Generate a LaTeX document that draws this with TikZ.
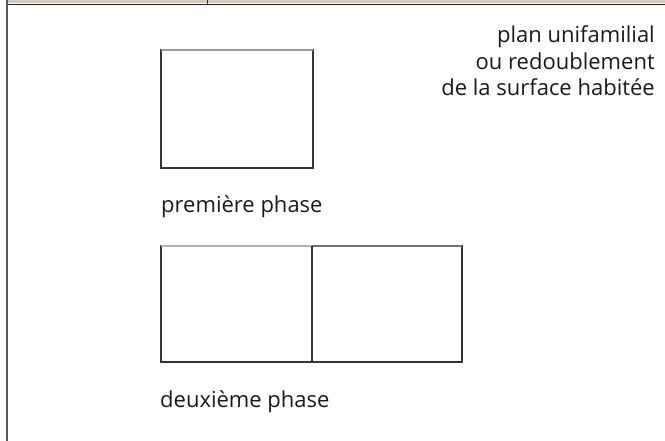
\documentclass[tikz,border=0pt]{standalone}
\usepackage{fontspec}
\setmainfont{Open Sans}
\definecolor{strip}{HTML}{D8C9C1}
\definecolor{frameline}{HTML}{5A5A5A}
\definecolor{plan}{HTML}{333333}
\definecolor{txt}{HTML}{1A1A1A}
\begin{document}
\begin{tikzpicture}[x=1pt,y=-1pt,
  planline/.style={draw=plan,line width=1.8pt},
  label/.style={inner sep=0pt,text=txt,font=\fontsize{22}{26.5}\selectfont},
]
\useasboundingbox (0,0) rectangle (665,441);
% header strip and frame
\fill[strip] (6,0) rectangle (665,3.5);
\draw[line width=1.5pt,draw=black!85] (6,4.3) -- (665,4.3);
\draw[line width=1pt,draw=black!80] (207,0) -- (207,4.3);
\draw[line width=2pt,draw=frameline] (6.5,0) -- (6.5,441);
% first phase
\coordinate (a1) at (161,50);
\coordinate (a2) at (313,168);
\draw[planline] (a1) rectangle (a2);
\draw[draw=black!40,line width=1.8pt] (a1) -- (313,50);
\node[label,anchor=base west] (p1) at (161,213) {première phase};
% second phase
\coordinate (b1) at (161,246);
\coordinate (bm) at (312,246);
\coordinate (bmb) at (312,362);
\coordinate (b2) at (462,362);
\draw[planline] (b1) rectangle (b2);
\draw[draw=black!30,line width=1.8pt] (b1) -- (bm);
\draw[draw=black!55,line width=1.8pt] (bm) -- (462,246);
\draw[planline] (bm) -- (bmb);
\node[label,anchor=base west] (p2) at (160,407) {deuxième phase};
% title
\node[label,anchor=base east] (t) at (655,43) {plan unifamilial};
\node[label,anchor=base east] (t2) at (655,69.5) {ou redoublement};
\node[label,anchor=base east] (t3) at (655,96) {de la surface habitée};
\end{tikzpicture}
\end{document}
